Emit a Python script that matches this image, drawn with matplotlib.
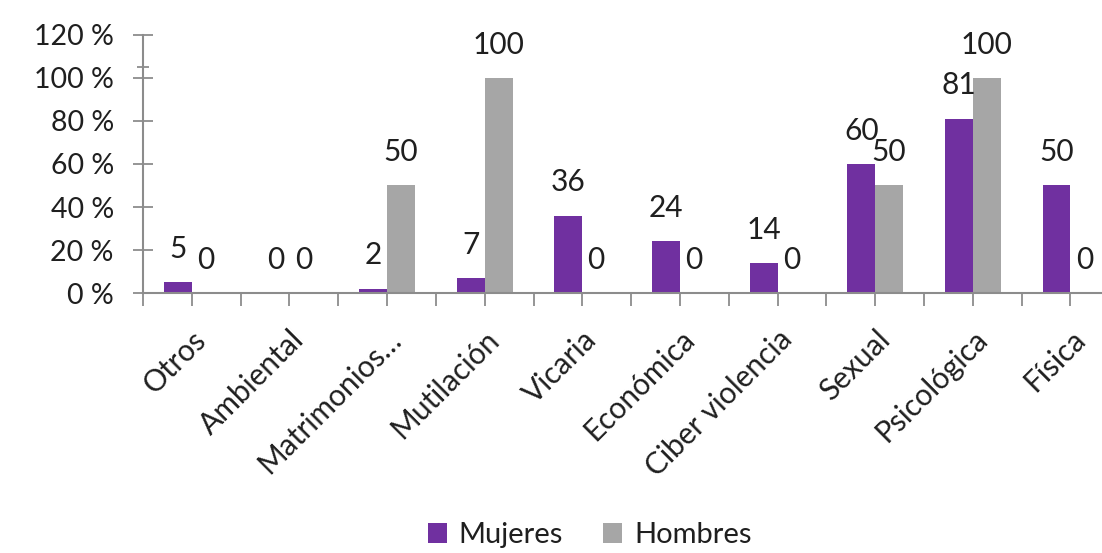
import matplotlib
matplotlib.use("Agg")
import matplotlib.pyplot as plt
import matplotlib.transforms as mtransforms
import numpy as np

categorias = ["Otros", "Ambiental", "Matrimonios…", "Mutilación", "Vicaria",
              "Económica", "Ciber violencia", "Sexual", "Psicológica", "Física"]
mujeres = [5, 0, 2, 7, 36, 24, 14, 60, 81, 50]
hombres = [0, 0, 50, 100, 0, 0, 0, 50, 100, 0]
yticks = [0, 20, 40, 60, 80, 100, 120]

plt.rcParams['font.family'] = ['Lato', 'DejaVu Sans']
PURPLE = "#7030A0"
GRAY = "#A6A6A6"
AXC = "#8C8C8C"
TXT = "#1F1F1F"

fig = plt.figure(figsize=(11.02, 5.53), dpi=100)
ax = fig.add_axes([0.1298, 0.470, 0.8858, 0.467])

x = np.arange(len(categorias))
w = 0.285
b1 = ax.bar(x - w / 2, mujeres, w, color=PURPLE, label="Mujeres")
b2 = ax.bar(x + w / 2, hombres, w, color=GRAY, label="Hombres")

for bars, vals in ((b1, mujeres), (b2, hombres)):
    for r, v in zip(bars, vals):
        ax.annotate(str(v), (r.get_x() + r.get_width() / 2, v),
                    xytext=(0, 24), textcoords="offset points",
                    ha="center", va="center", fontsize=21.5, color=TXT)

ax.set_xlim(-0.5, len(categorias) - 0.5)
ax.set_ylim(0, 120)
ax.set_yticks(yticks)
ax.set_yticklabels([f"{v} %" for v in yticks])
ax.set_yticks([105], minor=True)
ax.set_xticks(x)
ax.set_xticks(np.arange(-0.5, len(categorias), 1.0), minor=True)
ax.set_xticklabels(categorias, rotation=45, ha="right", rotation_mode="anchor")

offset = mtransforms.ScaledTranslation(3 / 100, 0, fig.dpi_scale_trans)
for lbl in ax.get_xticklabels():
    lbl.set_transform(lbl.get_transform() + offset)

for s in ("top", "right"):
    ax.spines[s].set_visible(False)
for s in ("left", "bottom"):
    ax.spines[s].set_color(AXC)
    ax.spines[s].set_linewidth(1.5)

ax.tick_params(axis="y", which="major", direction="inout", length=14, width=1.3,
               color=AXC, labelsize=20.5, labelcolor=TXT, pad=14)
ax.tick_params(axis="y", which="minor", direction="inout", length=9, width=1.3, color=AXC)
ax.tick_params(axis="x", which="both", direction="out", length=9, width=1.3,
               color=AXC, labelsize=21.5, labelcolor=TXT, pad=14)

fig.legend(handles=[b1, b2], loc="center", bbox_to_anchor=(0.535, 0.032), ncol=2,
           frameon=False, fontsize=21, handlelength=0.65, handleheight=0.65,
           handletextpad=0.4, columnspacing=1.4, labelcolor=TXT)

fig.savefig("out.png", dpi=100)
